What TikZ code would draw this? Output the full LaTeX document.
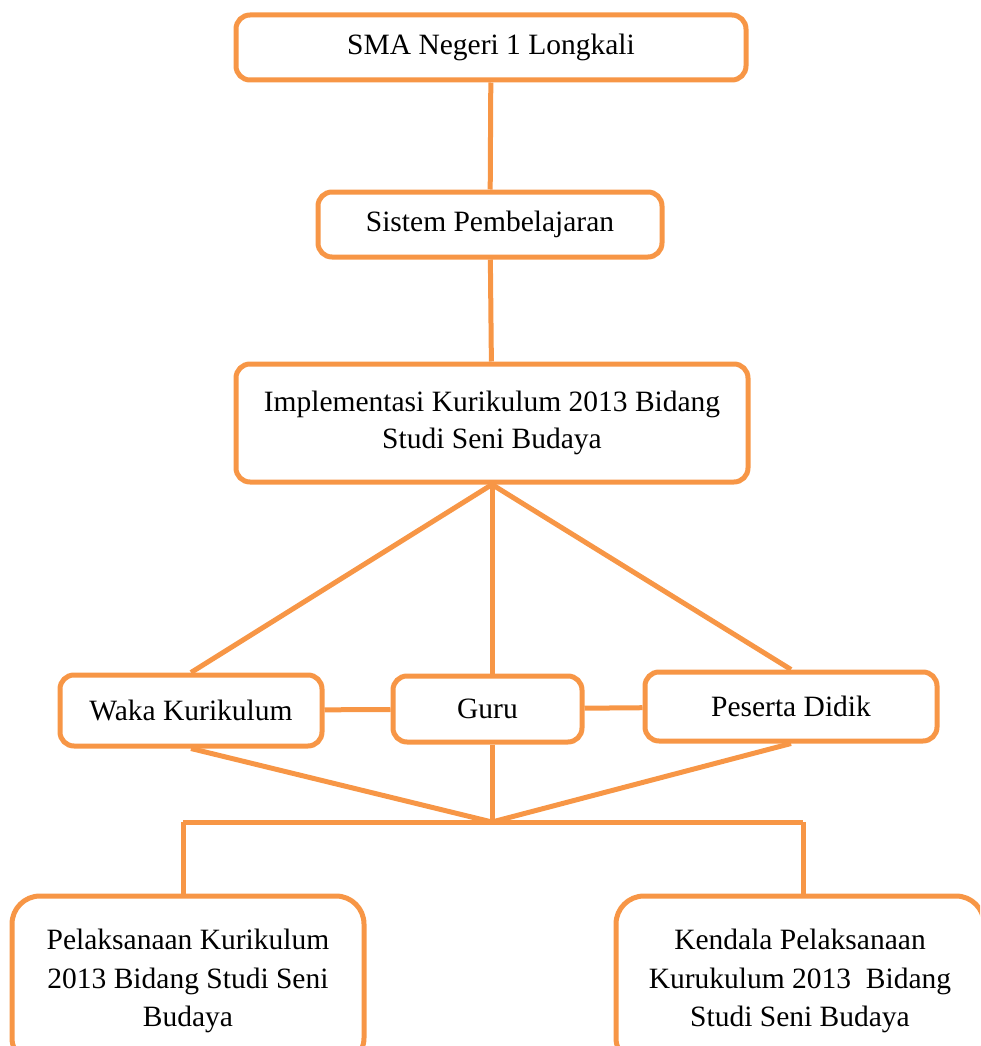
\documentclass[tikz,border=0pt]{standalone}
\usepackage{fontspec}
\setmainfont{Liberation Serif}
\usetikzlibrary{positioning,calc}
\definecolor{KKorange}{HTML}{F79646}
\tikzset{
  orgbox/.style={draw=KKorange, line width=5pt, rounded corners=14pt, fill=white, align=center, inner sep=2pt, font=\fontsize{29.5}{37.5}\selectfont},
  link/.style={draw=KKorange, line width=5pt},
}

\begin{document}
\begin{tikzpicture}[x=1pt,y=-1pt]
  \clip (0,0) rectangle (980,1046);
  \useasboundingbox (0,0) rectangle (980,1046);

  \node[orgbox, minimum width=510pt, minimum height=65pt] (school) at (491,47.5) {SMA Negeri 1 Longkali};
  \node[orgbox, minimum width=344pt, minimum height=65pt] (sistem) at (490,224.5) {Sistem Pembelajaran};
  \node[orgbox, minimum width=512pt, minimum height=118pt] (impl) at (492,423) {Implementasi Kurikulum 2013 Bidang\\Studi Seni Budaya};

  \node[orgbox, minimum width=262pt, minimum height=71pt] (waka) at (191,710.5) {Waka Kurikulum};
  \node[orgbox, minimum width=189pt, minimum height=66pt] (guru) at (487.5,709) {Guru};
  \node[orgbox, minimum width=292pt, minimum height=69pt] (siswa) at (791,706.5) {Peserta Didik};

  \node[orgbox, minimum width=352pt, minimum height=170pt, rounded corners=28pt, font=\fontsize{29.5}{38.5}\selectfont] (pelaks) at (188,981) {Pelaksanaan Kurikulum\\2013 Bidang Studi Seni\\Budaya};
  \node[orgbox, minimum width=368pt, minimum height=170pt, rounded corners=28pt, font=\fontsize{29.5}{38.5}\selectfont] (kendala) at (800,981) {Kendala Pelaksanaan\\Kurukulum 2013\ \ Bidang\\Studi Seni Budaya};

  \coordinate (join) at (492,822);
  \coordinate (barL) at (183,822);
  \coordinate (barR) at (803,822);

  \draw[link] (school) -- (sistem);
  \draw[link] (sistem) -- (impl);
  \draw[link] (impl.south) -- (waka.north);
  \draw[link] (impl.south) -- (impl.south |- guru.north);
  \draw[link] (impl.south) -- (siswa.north);
  \draw[link] (waka) -- (guru);
  \draw[link] (guru) -- (siswa);
  \draw[link] (waka.south) -- (join);
  \draw[link] (siswa.south) -- (join);
  \draw[link] (join |- guru.south) -- (join);
  \draw[link] (barL) -- (barR);
  \draw[link] (barL) -- (barL |- pelaks.north);
  \draw[link] (barR) -- (barR |- kendala.north);
\end{tikzpicture}
\end{document}
